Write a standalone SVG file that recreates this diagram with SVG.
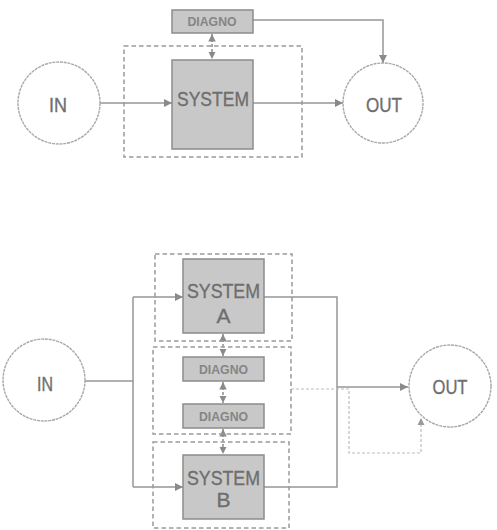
<svg xmlns="http://www.w3.org/2000/svg" width="497" height="530" viewBox="0 0 497 530">
<style>
.bg{fill:#ffffff}
.circ{fill:#ffffff;stroke:#a8a8a8;stroke-width:1.4;stroke-dasharray:3 0.8}
.box{fill:#c8c8c8;stroke:#8c8c8c;stroke-width:1.5}
.grp{fill:none;stroke:#9a9a9a;stroke-width:1.5;stroke-dasharray:4.5 3}
.big{font-family:"Liberation Sans",Arial,sans-serif;font-size:21px;fill:#6e6e6e;stroke:#6e6e6e;stroke-width:0.35;text-anchor:middle}
.small{font-family:"Liberation Sans",Arial,sans-serif;font-size:13px;font-weight:bold;fill:#858585;text-anchor:middle}
.ln{fill:none;stroke:#969696;stroke-width:1.5}
.dbl{fill:none;stroke:#8c8c8c;stroke-width:1.5;stroke-dasharray:3 2}
.thin{fill:none;stroke:#bdbdbd;stroke-width:1.2;stroke-dasharray:3 2}
</style>
<defs>
<marker id="ah" viewBox="0 0 10 10" refX="10" refY="5" markerWidth="5.5" markerHeight="5.5" markerUnits="strokeWidth" orient="auto">
<path d="M0,0 L10,5 L0,10 z" fill="#8a8a8a"/>
</marker>
<marker id="ahs" viewBox="0 0 10 10" refX="10" refY="5" markerWidth="5" markerHeight="5" markerUnits="strokeWidth" orient="auto-start-reverse">
<path d="M0,0 L10,5 L0,10 z" fill="#8a8a8a"/>
</marker>
<marker id="aht" viewBox="0 0 10 10" refX="10" refY="5" markerWidth="6" markerHeight="6" markerUnits="strokeWidth" orient="auto">
<path d="M0,0 L10,5 L0,10 z" fill="#9a9a9a"/>
</marker>
</defs>
<rect class="bg" x="0" y="0" width="497" height="530"/>

<g id="connectors">
<path class="ln" d="M100,103 H172" marker-end="url(#ah)"/>
<path class="ln" d="M253,103 H343" marker-end="url(#ah)"/>
<path class="ln" d="M253,20 H383 V63" marker-end="url(#ah)"/>
<path class="dbl" d="M212,34 V59" marker-start="url(#ahs)" marker-end="url(#ahs)"/>

<path class="ln" d="M85,381 H133"/>
<path class="ln" d="M133,297 V487"/>
<path class="ln" d="M133,297 H183" marker-end="url(#ah)"/>
<path class="ln" d="M133,487 H183" marker-end="url(#ah)"/>
<path class="ln" d="M264,297 H337 V487 H264"/>
<path class="ln" d="M337,387 H408" marker-end="url(#ah)"/>
<path class="thin" d="M291,389 H349 V453 H421 V418" marker-end="url(#aht)"/>
<path class="dbl" d="M223,334 V356" marker-start="url(#ahs)" marker-end="url(#ahs)"/>
<path class="dbl" d="M223,382 V403" marker-start="url(#ahs)" marker-end="url(#ahs)"/>
<path class="dbl" d="M223,429 V454" marker-start="url(#ahs)" marker-end="url(#ahs)"/>
</g>

<g id="top-group"><rect class="grp" x="124" y="46" width="178" height="111"/></g>
<g id="top-in"><circle class="circ" cx="59" cy="103" r="41"/><text class="big" x="58" y="112" textLength="18" lengthAdjust="spacingAndGlyphs">IN</text></g>
<g id="top-out"><circle class="circ" cx="383" cy="103" r="40"/><text class="big" x="384" y="112" textLength="36" lengthAdjust="spacingAndGlyphs">OUT</text></g>
<g id="top-system"><rect class="box" x="172" y="60" width="81" height="89"/><text class="big" x="213" y="106" textLength="72" lengthAdjust="spacingAndGlyphs">SYSTEM</text></g>
<g id="top-diagno"><rect class="box" x="172" y="10" width="81" height="23"/><text class="small" x="212" y="26" textLength="49" lengthAdjust="spacingAndGlyphs">DIAGNO</text></g>

<g id="grp-a"><rect class="grp" x="155" y="254" width="137" height="87"/></g>
<g id="grp-diag"><rect class="grp" x="153" y="347" width="138" height="87"/></g>
<g id="grp-b"><rect class="grp" x="153" y="442" width="136" height="86"/></g>

<g id="bot-in"><circle class="circ" cx="44" cy="380" r="41"/><text class="big" x="45" y="391" textLength="16" lengthAdjust="spacingAndGlyphs">IN</text></g>
<g id="bot-out"><circle class="circ" cx="450" cy="386" r="41"/><text class="big" x="450" y="394" textLength="35" lengthAdjust="spacingAndGlyphs">OUT</text></g>
<g id="system-a"><rect class="box" x="183" y="259" width="81" height="74"/><text class="big" x="223.5" y="298" textLength="73" lengthAdjust="spacingAndGlyphs">SYSTEM</text><text class="big" x="223.5" y="323">A</text></g>
<g id="diagno-1"><rect class="box" x="183" y="357" width="81" height="24"/><text class="small" x="223.5" y="374" textLength="49" lengthAdjust="spacingAndGlyphs">DIAGNO</text></g>
<g id="diagno-2"><rect class="box" x="183" y="404" width="81" height="24"/><text class="small" x="223.5" y="421" textLength="49" lengthAdjust="spacingAndGlyphs">DIAGNO</text></g>
<g id="system-b"><rect class="box" x="183" y="455" width="81" height="64"/><text class="big" x="223.5" y="485" textLength="73" lengthAdjust="spacingAndGlyphs">SYSTEM</text><text class="big" x="223.5" y="507">B</text></g>
</svg>
